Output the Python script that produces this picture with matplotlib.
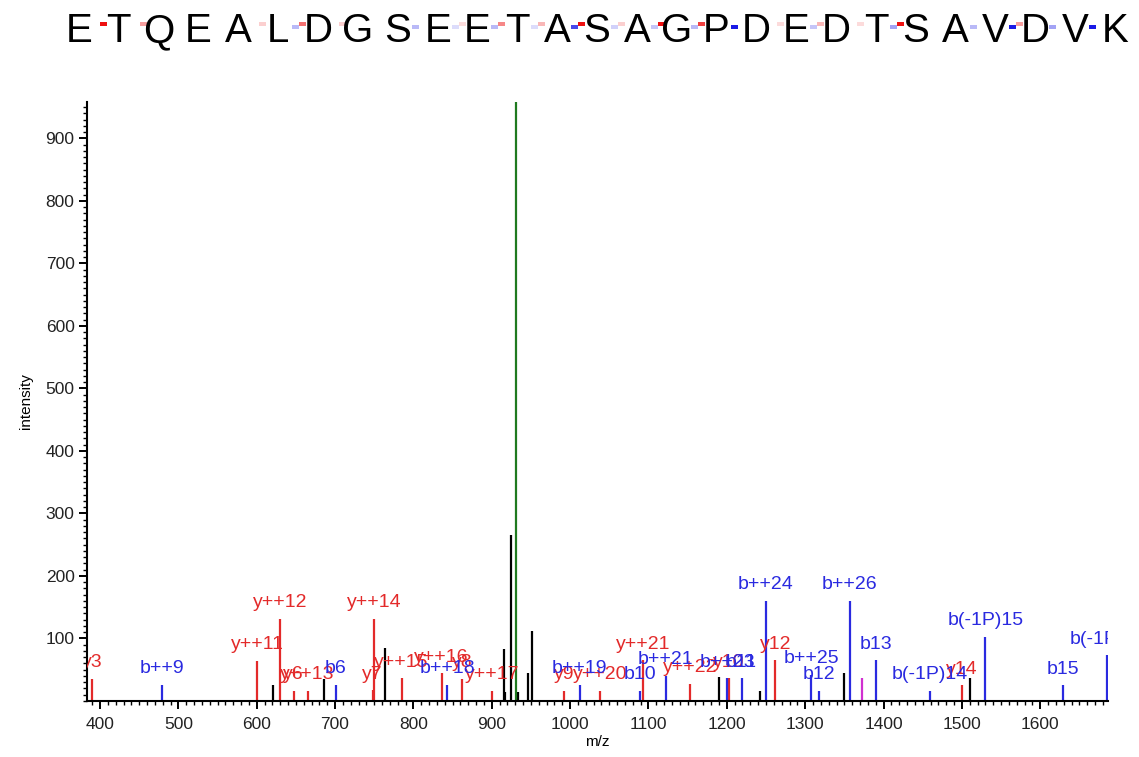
import matplotlib
matplotlib.use("Agg")
import matplotlib.pyplot as plt
from matplotlib.patches import Rectangle
from matplotlib.ticker import MultipleLocator

plt.rcParams['font.family'] = ['Liberation Sans', 'DejaVu Sans']

# peptide sequence and fragment coverage (alpha of the b / y markers between residues)
sequence = list("ETQEALDGSEETASAGPDEDTSAVDVK")
b_cover = [0, 0, 0, 0, 0, 0.3, 0, 0, 0.3, 0.15, 0.3, 0.15, 0.8,
           0.2, 0.25, 0.3, 1, 0, 0.25, 0, 0.4, 0, 0.3, 1, 0.4, 1]
y_cover = [1, 0.4, 0, 0, 0.2, 0.6, 0.2, 0, 0, 0.15, 0.5, 0.3, 1,
           0.2, 1, 0.8, 0, 0.15, 0.3, 0.15, 1, 0, 0, 0.4, 0, 0]

# y ions
y_mz = [390, 601, 630, 647, 665, 748, 749.5, 785, 836, 862, 900, 992, 1038,
        1093.5, 1153, 1203, 1262, 1500]
y_int = [35, 64, 131, 16, 16, 17, 131, 36, 44, 35, 16, 16, 16,
         65, 27, 36, 65, 25]
y_lab = ['y3', 'y++11', 'y++12', 'y6', 'y++13', 'y7', 'y++14', 'y++15', 'y++16',
         'y8', 'y++17', 'y9', 'y++20', 'y++21', 'y++22', 'y10', 'y12', 'y14']

# b ions
b_mz = [479, 700.6, 843.5, 1012, 1089, 1122, 1200.6, 1219, 1249.5, 1308, 1318,
        1356.6, 1390, 1459, 1530, 1629, 1685.7]
b_int = [26, 26, 26, 26, 16, 40, 36, 36, 160, 42, 16, 160, 65, 16, 102, 25, 73]
b_lab = ['b++9', 'b6', 'b++18', 'b++19', 'b10', 'b++21', 'b++23', 'b11', 'b++24',
         'b++25', 'b12', 'b++26', 'b13', 'b(-1P)14', 'b(-1P)15', 'b15', 'b(-1P)16']

# unassigned peaks
other_mz = [621, 686, 764, 915, 917.5, 925, 933, 946, 951, 1190, 1242, 1349, 1510]
other_int = [26, 35, 84, 83, 15, 265, 15, 44, 112, 38, 16, 44, 36]

# precursor and neutral loss
prec_mz = [930.6]
prec_int = [958]
loss_mz = [1372]
loss_int = [36]

red = '#e32a2a'
blue = '#2a2ae0'

W, H = 1139, 757
fig = plt.figure(figsize=(W / 100, H / 100), dpi=100)
ax = fig.add_axes([87 / W, 1 - 701 / H, (1108 - 87) / W, (701 - 102) / H])

ax.vlines(other_mz, 0, other_int, color='black', lw=1.6)
ax.vlines(y_mz, 0, y_int, color=red, lw=1.6)
ax.vlines(b_mz, 0, b_int, color=blue, lw=1.6)
ax.vlines(prec_mz, 0, prec_int, color='#1f7a1f', lw=1.6)
ax.vlines(loss_mz, 0, loss_int, color='#d030d0', lw=1.6)

for m, h, t in zip(y_mz, y_int, y_lab):
    ax.annotate(t, (m, h), xytext=(0, 8.5), textcoords='offset points',
                ha='center', va='baseline', color=red, fontsize=14, clip_on=True)
for m, h, t in zip(b_mz, b_int, b_lab):
    ax.annotate(t, (m, h), xytext=(0, 8.5), textcoords='offset points',
                ha='center', va='baseline', color=blue, fontsize=14, clip_on=True)

ax.set_xlim(383.4, 1686.5)
ax.set_ylim(0, 958)
ax.xaxis.set_major_locator(MultipleLocator(100))
ax.xaxis.set_minor_locator(MultipleLocator(10))
ax.yaxis.set_major_locator(MultipleLocator(100))
ax.yaxis.set_minor_locator(MultipleLocator(10))
ax.set_yticks([100, 200, 300, 400, 500, 600, 700, 800, 900])
ax.yaxis.set_minor_locator(MultipleLocator(10))

for s in ['top', 'right']:
    ax.spines[s].set_visible(False)
for s in ['left', 'bottom']:
    ax.spines[s].set_linewidth(1.5)

ax.tick_params(which='major', direction='out', length=6, width=1.4,
               labelsize=12.5, labelcolor='#222222')
ax.tick_params(which='minor', direction='out', length=3, width=1)
ax.tick_params(axis='x', pad=5.5)
ax.tick_params(axis='y', pad=3)

ax.set_xlabel('m/z', fontsize=11, labelpad=2)
ax.set_ylabel('intensity', fontsize=11, labelpad=9)

# sequence header with fragment markers
step = 39.85
for i, aa in enumerate(sequence):
    fig.text((79 + step * i) / W, 1 - 42 / H, aa, ha='center', va='baseline',
             fontsize=29, color='black')
for i in range(len(sequence) - 1):
    cx = 79 + step * (i + 0.5)
    if b_cover[i] > 0:
        fig.add_artist(Rectangle(((cx - 6) / W, 1 - 28.5 / H), 7 / W, 3 / H,
                                 transform=fig.transFigure, color='#1a1ae6',
                                 alpha=b_cover[i], lw=0))
    if y_cover[i] > 0:
        fig.add_artist(Rectangle(((cx + 1) / W, 1 - 25.5 / H), 7 / W, 3 / H,
                                 transform=fig.transFigure, color='#ee1111',
                                 alpha=y_cover[i], lw=0))

fig.savefig('out.png', dpi=100)
